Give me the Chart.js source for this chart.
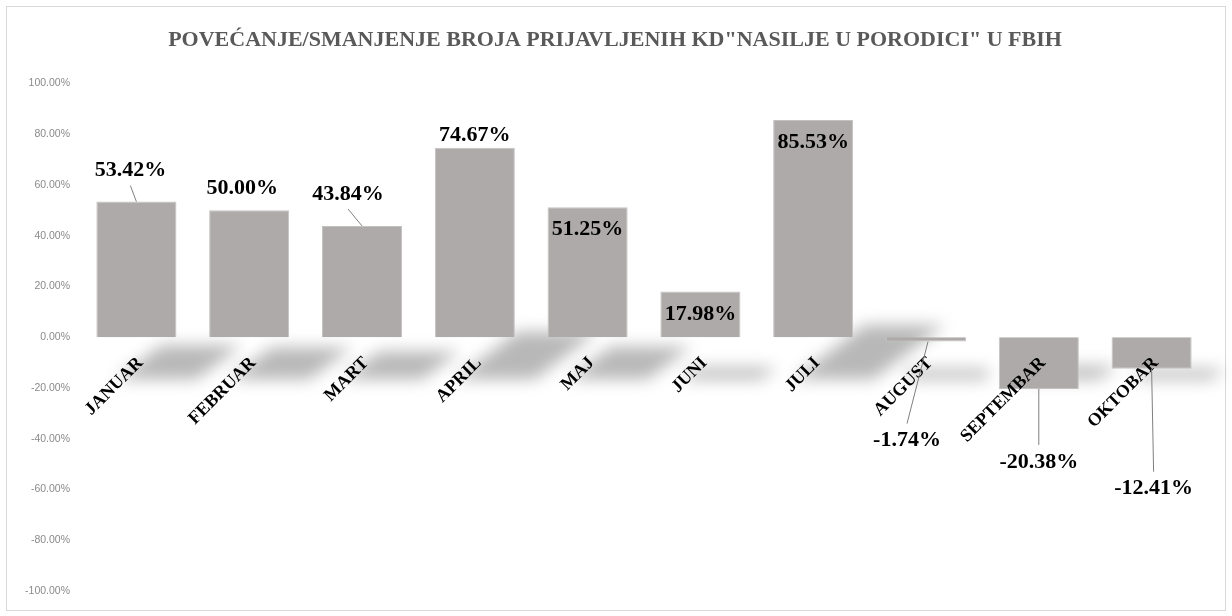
<!DOCTYPE html>
<html>
<head>
<meta charset="utf-8">
<script src="https://cdn.jsdelivr.net/npm/chart.js@4.4.1/dist/chart.umd.min.js"></script>
<style>
    html, body { margin: 0; padding: 0; background: #fff; }
    #wrap { width: 1232px; height: 616px; position: relative; }
</style>
</head>
<body>
<div id="wrap"><canvas id="chart-change" width="1232" height="616"></canvas></div>
<script>
// Data
const months = ['JANUAR', 'FEBRUAR', 'MART', 'APRIL', 'MAJ', 'JUNI', 'JULI', 'AUGUST', 'SEPTEMBAR', 'OKTOBAR'];
const changes = [53.42, 50.00, 43.84, 74.67, 51.25, 17.98, 85.53, -1.74, -20.38, -12.41];
const yMin = -100;
const yMax = 100;
const yStep = 20;
const chartTitle = 'POVEĆANJE/SMANJENJE BROJA PRIJAVLJENIH KD"NASILJE U PORODICI" U FBIH';

// Label placement relative to the bar end (px) and whether a leader line is drawn
const labelOffsets = [[-6, -31], [-7, -22], [-14, -32], [0, -12], [0, 22], [0, 23], [0, 22], [-19, 99], [0, 73], [2, 120]];
const leaders = [true, false, true, false, false, false, false, true, true, true];

// Theme
const serif = '"Liberation Serif", "Times New Roman", serif';
const barColor = '#aeaaaa';
const tickColor = '#8a8a8a';

// Outer chart border
const borderPlugin = {
    id: 'outerBorder',
    beforeDraw(chart) {
        const ctx = chart.ctx;
        ctx.save();
        ctx.strokeStyle = '#d9d9d9';
        ctx.lineWidth = 1;
        ctx.strokeRect(6.5, 6.5, 1219, 604);
        ctx.restore();
    }
};

// Soft perspective shadow under each bar
const shadowPlugin = {
    id: 'barShadow',
    beforeDatasetsDraw(chart) {
        const ctx = chart.ctx;
        const zero = chart.scales.y.getPixelForValue(0);
        ctx.save();
        ctx.filter = 'blur(8px)';
        ctx.fillStyle = 'rgba(0, 0, 0, 0.28)';
        chart.getDatasetMeta(0).data.forEach(bar => {
            const h = Math.abs(bar.base - bar.y);
            const left = bar.x - bar.width / 2;
            const right = bar.x + bar.width / 2;
            const by = zero + 42;
            const ty = by - Math.max(10, 0.25 * h);
            const bs = 20;
            const ts = 22 + 0.32 * h;
            ctx.beginPath();
            ctx.moveTo(left + bs, by);
            ctx.lineTo(right + bs, by);
            ctx.lineTo(right + ts, ty);
            ctx.lineTo(left + ts, ty);
            ctx.closePath();
            ctx.fill();
        });
        ctx.restore();
    }
};

// Month names, rotated, hanging under the zero line
const monthLabelPlugin = {
    id: 'monthLabels',
    afterDatasetsDraw(chart) {
        const ctx = chart.ctx;
        const xs = chart.scales.x;
        const zero = chart.scales.y.getPixelForValue(0);
        ctx.save();
        ctx.fillStyle = '#000';
        ctx.font = 'bold 18px ' + serif;
        ctx.textAlign = 'right';
        ctx.textBaseline = 'middle';
        months.forEach((m, i) => {
            ctx.save();
            ctx.translate(xs.getPixelForValue(i) + 4, zero + 23);
            ctx.rotate(-Math.PI / 4);
            ctx.fillText(m, 0, 0);
            ctx.restore();
        });
        ctx.restore();
    }
};

// Value labels with leader lines
const valueLabelPlugin = {
    id: 'valueLabels',
    afterDatasetsDraw(chart) {
        const ctx = chart.ctx;
        ctx.save();
        ctx.font = 'bold 22px ' + serif;
        ctx.textAlign = 'center';
        ctx.textBaseline = 'middle';
        chart.getDatasetMeta(0).data.forEach((bar, i) => {
            const v = changes[i];
            const lx = bar.x + labelOffsets[i][0];
            const ly = bar.y + labelOffsets[i][1];
            if (leaders[i]) {
                ctx.strokeStyle = '#7f7f7f';
                ctx.lineWidth = 1;
                ctx.beginPath();
                if (v >= 0) {
                    ctx.moveTo(lx, ly + 15);
                } else {
                    ctx.moveTo(lx, ly - 17);
                }
                ctx.lineTo(bar.x + (i === 7 ? 2 : 0), bar.y);
                ctx.stroke();
            }
            ctx.fillStyle = '#000';
            ctx.fillText(v.toFixed(2) + '%', lx, ly);
        });
        ctx.restore();
    }
};

new Chart(document.getElementById('chart-change').getContext('2d'), {
    type: 'bar',
    data: {
        labels: months,
        datasets: [{
            label: 'Promjena',
            data: changes,
            backgroundColor: barColor,
            borderColor: '#c4c1c1',
            borderWidth: 1,
            barPercentage: 0.71,
            categoryPercentage: 1
        }]
    },
    options: {
        responsive: false,
        animation: false,
        layout: { padding: { top: 0, right: 24, bottom: 25, left: 22 } },
        plugins: {
            legend: { display: false },
            tooltip: { enabled: false },
            title: {
                display: true,
                text: chartTitle,
                color: '#595959',
                font: { family: serif, size: 22, weight: 'bold' },
                padding: { top: 27, bottom: 30 }
            }
        },
        scales: {
            x: { display: false },
            y: {
                min: yMin,
                max: yMax,
                ticks: {
                    stepSize: yStep,
                    color: tickColor,
                    padding: 10,
                    font: { family: '"Liberation Sans", Arial, sans-serif', size: 10.5 },
                    callback: (v) => v.toFixed(2) + '%'
                },
                grid: { display: false, drawTicks: false },
                border: { display: false },
                afterFit: (s) => { s.width = 58; }
            }
        }
    },
    plugins: [borderPlugin, shadowPlugin, monthLabelPlugin, valueLabelPlugin]
});
</script>
</body>
</html>
